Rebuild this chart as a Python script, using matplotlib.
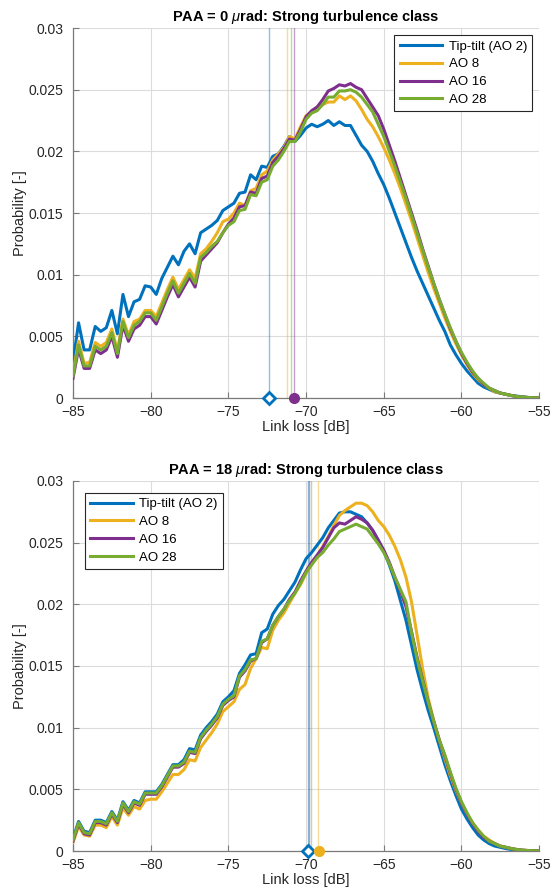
import numpy as np
import matplotlib.pyplot as plt

plt.rcParams['font.family'] = ['Liberation Sans', 'DejaVu Sans']
plt.rcParams['mathtext.fontset'] = 'custom'
plt.rcParams['mathtext.rm'] = 'Liberation Sans'
plt.rcParams['mathtext.it'] = 'Liberation Sans:italic'
plt.rcParams['mathtext.bf'] = 'Liberation Sans:bold'

# link loss bins [dB]
loss = np.linspace(-85, -55, 85)

names = ['Tip-tilt (AO 2)', 'AO 8', 'AO 16', 'AO 28']
colors = ['#0072BD', '#EDB120', '#7E2F8E', '#77AC30']

# PAA = 0 urad
top_tt = [.0029, .0061, .0039, .0039, .0058, .0054, .0057, .0071, .0052, .0084,
          .0066, .0078, .0080, .0091, .0090, .0084, .0097, .0106, .0115, .0108,
          .0119, .0125, .0117, .0134, .0137, .0140, .0144, .0152, .0155, .0158,
          .0166, .0167, .0181, .0177, .0188, .0187, .0196, .0198, .0204, .0212,
          .0208, .0213, .0219, .0222, .0220, .0222, .0225, .0221, .0224, .0221,
          .0221, .0213, .0205, .0200, .0192, .0182, .0173, .0162, .0150, .0138,
          .0126, .0114, .0103, .0093, .0083, .0073, .0063, .0054, .0043, .0035,
          .0028, .0022, .0017, .0012, .0009, .0007, .0005, .0004, .0003, .0002,
          .00015, .0001, .00005, .00002, 0]
top_ao8 = [.0020, .0046, .0028, .0029, .0045, .0042, .0045, .0056, .0038, .0064,
           .0051, .0062, .0064, .0071, .0071, .0066, .0077, .0088, .0098, .0088,
           .0096, .0104, .0097, .0117, .0121, .0127, .0134, .0143, .0145, .0150,
           .0158, .0156, .0168, .0170, .0181, .0184, .0193, .0198, .0203, .0212,
           .0210, .0220, .0229, .0232, .0236, .0238, .0240, .0240, .0245, .0242,
           .0245, .0241, .0234, .0226, .0220, .0212, .0203, .0193, .0182, .0170,
           .0157, .0144, .0130, .0116, .0102, .0089, .0077, .0065, .0054, .0044,
           .0035, .0027, .0020, .0015, .0011, .0008, .0005, .0004, .0003, .0002,
           .0001, .00006, .00003, .00001, 0]
top_ao16 = [.0016, .0040, .0024, .0024, .0039, .0036, .0039, .0050, .0033, .0059,
            .0046, .0056, .0059, .0066, .0066, .0060, .0071, .0082, .0092, .0082,
            .0090, .0098, .0090, .0111, .0116, .0121, .0126, .0134, .0141, .0146,
            .0155, .0156, .0167, .0166, .0178, .0180, .0191, .0196, .0202, .0210,
            .0209, .0218, .0228, .0233, .0236, .0242, .0249, .0251, .0254, .0253,
            .0255, .0252, .0250, .0243, .0236, .0229, .0218, .0205, .0192, .0178,
            .0164, .0150, .0136, .0121, .0107, .0093, .0080, .0068, .0056, .0046,
            .0036, .0028, .0021, .0016, .0011, .0008, .0006, .0004, .0003, .0002,
            .00012, .00007, .00004, .00002, 0]
top_ao28 = [.0018, .0043, .0026, .0026, .0042, .0039, .0042, .0053, .0036, .0062,
            .0049, .0059, .0062, .0069, .0069, .0063, .0074, .0085, .0095, .0085,
            .0093, .0101, .0093, .0114, .0118, .0123, .0127, .0134, .0140, .0143,
            .0152, .0153, .0165, .0164, .0175, .0177, .0188, .0193, .0200, .0208,
            .0208, .0216, .0226, .0231, .0233, .0238, .0244, .0244, .0249, .0249,
            .0250, .0248, .0244, .0238, .0232, .0222, .0212, .0200, .0188, .0175,
            .0162, .0148, .0134, .0120, .0106, .0093, .0080, .0068, .0057, .0046,
            .0037, .0029, .0022, .0016, .0012, .0008, .0006, .0004, .0003, .0002,
            .00012, .00008, .00004, .00002, 0]

# PAA = 18 urad
bot_tt = [.0010, .0024, .0016, .0015, .0025, .0025, .0023, .0032, .0025, .0040,
          .0033, .0041, .0039, .0048, .0048, .0048, .0054, .0062, .0070, .0070,
          .0074, .0083, .0082, .0094, .0100, .0105, .0111, .0121, .0125, .0130,
          .0144, .0151, .0159, .0160, .0177, .0180, .0192, .0199, .0204, .0211,
          .0218, .0228, .0237, .0242, .0248, .0254, .0262, .0268, .0274, .0275,
          .0275, .0273, .0271, .0266, .0260, .0252, .0243, .0232, .0219, .0203,
          .0187, .0167, .0147, .0130, .0114, .0100, .0085, .0070, .0057, .0045,
          .0034, .0026, .0019, .0013, .0009, .0006, .0004, .0003, .0002, .00012,
          .00008, .00005, .00003, .00001, 0]
bot_ao8 = [.0007, .0020, .0013, .0012, .0021, .0021, .0019, .0028, .0021, .0035,
           .0029, .0036, .0034, .0041, .0042, .0042, .0048, .0055, .0062, .0062,
           .0066, .0074, .0073, .0084, .0090, .0096, .0103, .0113, .0117, .0121,
           .0131, .0135, .0148, .0156, .0165, .0164, .0179, .0187, .0193, .0201,
           .0209, .0216, .0225, .0233, .0239, .0247, .0255, .0264, .0272, .0276,
           .0279, .0282, .0282, .0280, .0275, .0268, .0263, .0256, .0247, .0236,
           .0222, .0202, .0175, .0148, .0124, .0106, .0090, .0075, .0061, .0049,
           .0039, .0030, .0023, .0017, .0012, .0009, .0006, .0004, .0003, .0002,
           .00012, .00007, .00004, .00002, 0]
bot_ao16 = [.0008, .0022, .0014, .0013, .0023, .0023, .0021, .0030, .0023, .0038,
            .0031, .0039, .0037, .0046, .0046, .0046, .0052, .0060, .0068, .0068,
            .0071, .0080, .0079, .0091, .0097, .0102, .0108, .0118, .0122, .0125,
            .0141, .0146, .0154, .0156, .0169, .0172, .0183, .0190, .0196, .0204,
            .0210, .0219, .0227, .0234, .0240, .0246, .0254, .0262, .0266, .0265,
            .0268, .0271, .0269, .0266, .0260, .0252, .0244, .0234, .0222, .0211,
            .0198, .0178, .0157, .0139, .0121, .0105, .0090, .0077, .0063, .0050,
            .0039, .0030, .0022, .0016, .0011, .0008, .0006, .0004, .0003, .0002,
            .00012, .00007, .00004, .00002, 0]
bot_ao28 = [.0009, .0023, .0015, .0014, .0024, .0024, .0022, .0031, .0024, .0039,
            .0032, .0040, .0038, .0047, .0047, .0047, .0053, .0061, .0069, .0069,
            .0072, .0081, .0080, .0092, .0098, .0103, .0109, .0119, .0123, .0126,
            .0142, .0147, .0155, .0156, .0170, .0172, .0183, .0190, .0196, .0203,
            .0209, .0217, .0226, .0232, .0238, .0242, .0248, .0253, .0259, .0261,
            .0263, .0265, .0263, .0261, .0255, .0249, .0242, .0233, .0222, .0212,
            .0202, .0177, .0156, .0138, .0121, .0105, .0090, .0078, .0064, .0051,
            .0040, .0031, .0023, .0017, .0012, .0008, .0006, .0004, .0003, .0002,
            .00012, .00007, .00004, .00002, 0]

# mean link loss per case (thin vertical lines) and marked values
top_means = [-72.38, -71.2, -70.75, -70.97]
bot_means = [-69.87, -69.23, -69.79, -69.71]
top_marks = {'diamond': -72.38, 'circle': -70.75, 'circle_color': 2}
bot_marks = {'diamond': -69.87, 'circle': -69.18, 'circle_color': 1}

yticks = [0, 0.005, 0.01, 0.015, 0.02, 0.025, 0.03]
ytick_labels = ['0', '0.005', '0.01', '0.015', '0.02', '0.025', '0.03']
xticks = [-85, -80, -75, -70, -65, -60, -55]

fig = plt.figure(figsize=(5.51, 8.96), dpi=100)
ax1 = fig.add_axes([0.1325, 0.5558, 0.846, 0.4129])
ax2 = fig.add_axes([0.1325, 0.0502, 0.846, 0.4130])

panels = [
    (ax1, [top_tt, top_ao8, top_ao16, top_ao28], top_means, top_marks,
     r'PAA = 0 $\mu$rad: Strong turbulence class', 'upper right', (0.985, 0.981)),
    (ax2, [bot_tt, bot_ao8, bot_ao16, bot_ao28], bot_means, bot_marks,
     r'PAA = 18 $\mu$rad: Strong turbulence class', 'upper left', (0.026, 0.968)),
]

for ax, curves, means, marks, title, legloc, anchor in panels:
    for m, c in zip(means, colors):
        ax.axvline(m, color=c, lw=1, alpha=0.45, zorder=1)
    for y, c, n in zip(curves, colors, names):
        ax.plot(loss, y, color=c, lw=2.2, label=n, zorder=3)
    ax.plot(marks['diamond'], 0, marker='D', ms=6.5, mfc='white', mec=colors[0],
            mew=2, clip_on=False, zorder=5)
    ax.plot(marks['circle'], 0, marker='o', ms=7, mfc=colors[marks['circle_color']],
            mec=colors[marks['circle_color']], clip_on=False, zorder=5)

    ax.set_xlim(-85, -55)
    ax.set_ylim(0, 0.03)
    ax.set_xticks(xticks)
    ax.set_yticks(yticks)
    ax.set_yticklabels(ytick_labels)
    ax.grid(True, color='#dcdcdc', lw=0.8)
    ax.set_axisbelow(True)
    for s in ['top', 'right']:
        ax.spines[s].set_visible(False)
    for s in ['left', 'bottom']:
        ax.spines[s].set_color('#7a7a7a')
        ax.spines[s].set_linewidth(0.9)
    ax.tick_params(direction='in', length=4, colors='#262626', labelsize=10, width=0.8)
    ax.tick_params(axis='both', color='#7a7a7a')
    ax.tick_params(axis='x', pad=5)
    ax.tick_params(axis='y', pad=7)
    ax.set_xlabel('Link loss [dB]', fontsize=10.5, color='#262626', labelpad=1)
    ax.set_ylabel('Probability [-]', fontsize=10.5, color='#262626', labelpad=1)
    ax.set_title(title, fontsize=10.5, fontweight='bold', pad=5)
    leg = ax.legend(loc=legloc, bbox_to_anchor=anchor, borderaxespad=0,
                    fontsize=9.5, handlelength=3.2, fancybox=False,
                    framealpha=1, edgecolor='#262626', borderpad=0.4,
                    labelspacing=0.42, handletextpad=0.5)
    leg.get_frame().set_linewidth(0.8)

fig.savefig('out.png', dpi=100)
